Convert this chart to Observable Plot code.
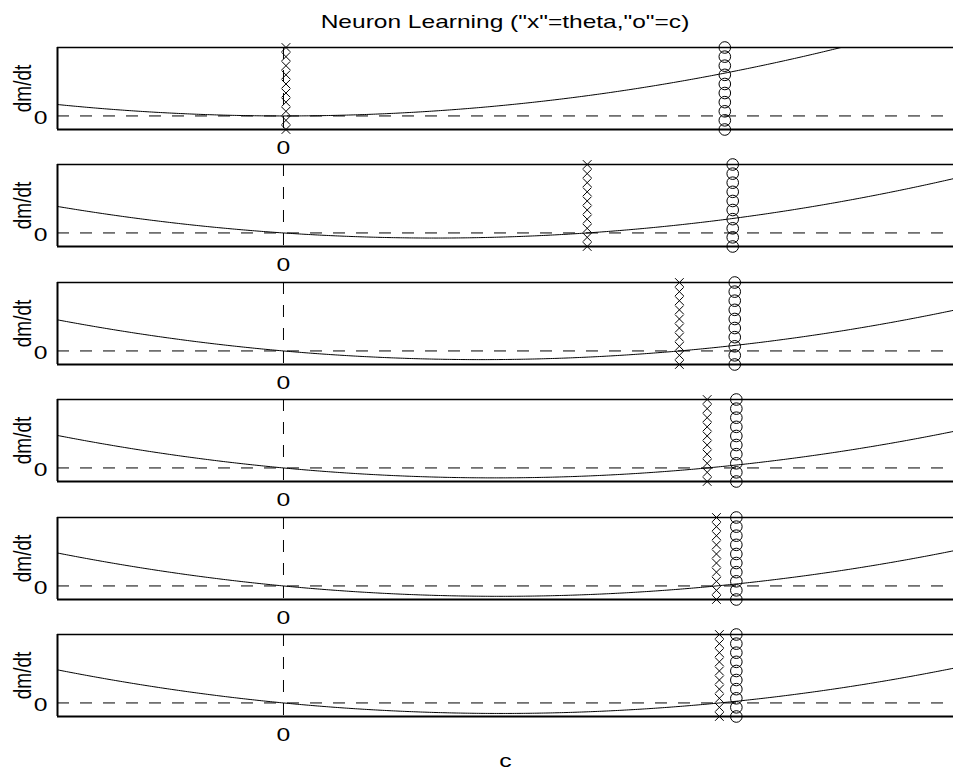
<!DOCTYPE html>
<html>
<head>
<meta charset="utf-8">
<script src="https://cdn.jsdelivr.net/npm/d3@7"></script>
<script src="https://cdn.jsdelivr.net/npm/@observablehq/plot@0.6"></script>
<style>
  html, body { margin: 0; padding: 0; background: #fff; overflow: hidden; }
  #fig { position: relative; width: 953px; height: 777px; overflow: hidden;
         font-family: "Liberation Sans", Arial, sans-serif; }
  #fig .panel { position: absolute; left: 0; }
  #title { position: absolute; left: 0; top: 12px; width: 1010px; text-align: center;
           font-size: 19px; line-height: 19px; white-space: nowrap;
           transform-origin: 505px 0; transform: scaleX(1.29); }
</style>
</head>
<body>
<div id="fig"><div id="title"></div></div>
<script>
// Learning snapshots: threshold theta ("x") and response c ("o") for each step
const titleText = 'Neuron Learning ("x"=theta,"o"=c)';
const thetas = [0.011, 1.344, 1.752, 1.875, 1.916, 1.929];
const cs = [1.953, 1.988, 1.997, 2.004, 2.004, 2.004];
// heights at which the marker columns are stacked
const markerLevels = [-1.2, -0.39, 0.41, 1.22, 2.03, 2.83, 3.64, 4.45, 5.25, 6.06];
const xTicks = [0];
const yTicks = [0];
const xDomain = [-1, 2.965];
const yDomain = [-1.2, 6.06];
const xLabel = "c";
const yLabel = "dm/dt";

const panelTops = [47, 164, 282, 399, 517, 634];
const textStretch = 1.3;
const fontSize = 19;

document.getElementById("title").textContent = titleText;
const fig = document.getElementById("fig");

// dm/dt = c (c - theta), sampled across the visible c range
const cGrid = d3.range(0, 401).map(i => xDomain[0] + i * (xDomain[1] - xDomain[0]) / 400);

thetas.forEach((theta, i) => {
  const last = i === thetas.length - 1;
  const c = cs[i];
  const curve = cGrid.map(x => ({c: x, v: x * (x - theta)}));
  const chart = Plot.plot({
    width: 953,
    height: last ? 155 : 132,
    marginLeft: 57,
    marginRight: 0,
    marginTop: 10,
    marginBottom: last ? 63 : 40,
    x: {domain: xDomain},
    y: {domain: yDomain},
    style: {fontFamily: "'Liberation Sans', Arial, sans-serif", fontSize: fontSize + "px", color: "black", background: "transparent"},
    marks: [
      Plot.ruleY([0], {stroke: "black", strokeWidth: 1, strokeDasharray: "12,11"}),
      Plot.ruleX([0], {stroke: "black", strokeWidth: 1, strokeDasharray: "12,11"}),
      Plot.line(curve, {x: "c", y: "v", stroke: "black", strokeWidth: 1, clip: true}),
      Plot.ruleY([yDomain[1]], {stroke: "black", strokeWidth: 1.5}),
      Plot.ruleY([yDomain[0]], {stroke: "black", strokeWidth: 2}),
      Plot.ruleX([xDomain[0]], {stroke: "black", strokeWidth: 2}),
      Plot.dot(markerLevels, {x: () => theta, y: d => d, symbol: "times", r: 4, stroke: "black", strokeWidth: 1}),
      Plot.dot(markerLevels, {x: () => c, y: d => d, symbol: "circle", r: 5.8, stroke: "black", fill: "none", strokeWidth: 1}),
      Plot.axisX({ticks: xTicks, tickSize: 0, tickPadding: 11, tickFormat: d => String(d), fontSize,
                  label: last ? xLabel : null, labelAnchor: "center", labelOffset: 50, labelArrow: "none"}),
      Plot.axisY({ticks: yTicks, tickSize: 0, tickPadding: 10, tickFormat: d => String(d), dy: 2, fontSize, label: null}),
      Plot.axisY({ticks: [], label: yLabel, labelAnchor: "center", labelOffset: 44, labelArrow: "none", dy: -5, fontSize})
    ]
  });
  chart.classList.add("panel");
  chart.style.top = (panelTops[i] - 10) + "px";
  fig.appendChild(chart);
  // widen the labels to the figure's text proportions
  chart.querySelectorAll("text").forEach(t => {
    const tr = t.getAttribute("transform") || "";
    const len = t.getComputedTextLength();
    if (!(len > 0)) return;
    if (tr.includes("rotate")) {
      // rotated label: glyphs grow across the line, length stays put
      t.setAttribute("font-size", (fontSize * textStretch).toFixed(2));
      t.setAttribute("textLength", len.toFixed(2));
    } else {
      t.setAttribute("textLength", (len * textStretch).toFixed(2));
    }
    t.setAttribute("lengthAdjust", "spacingAndGlyphs");
  });
});
</script>
</body>
</html>
